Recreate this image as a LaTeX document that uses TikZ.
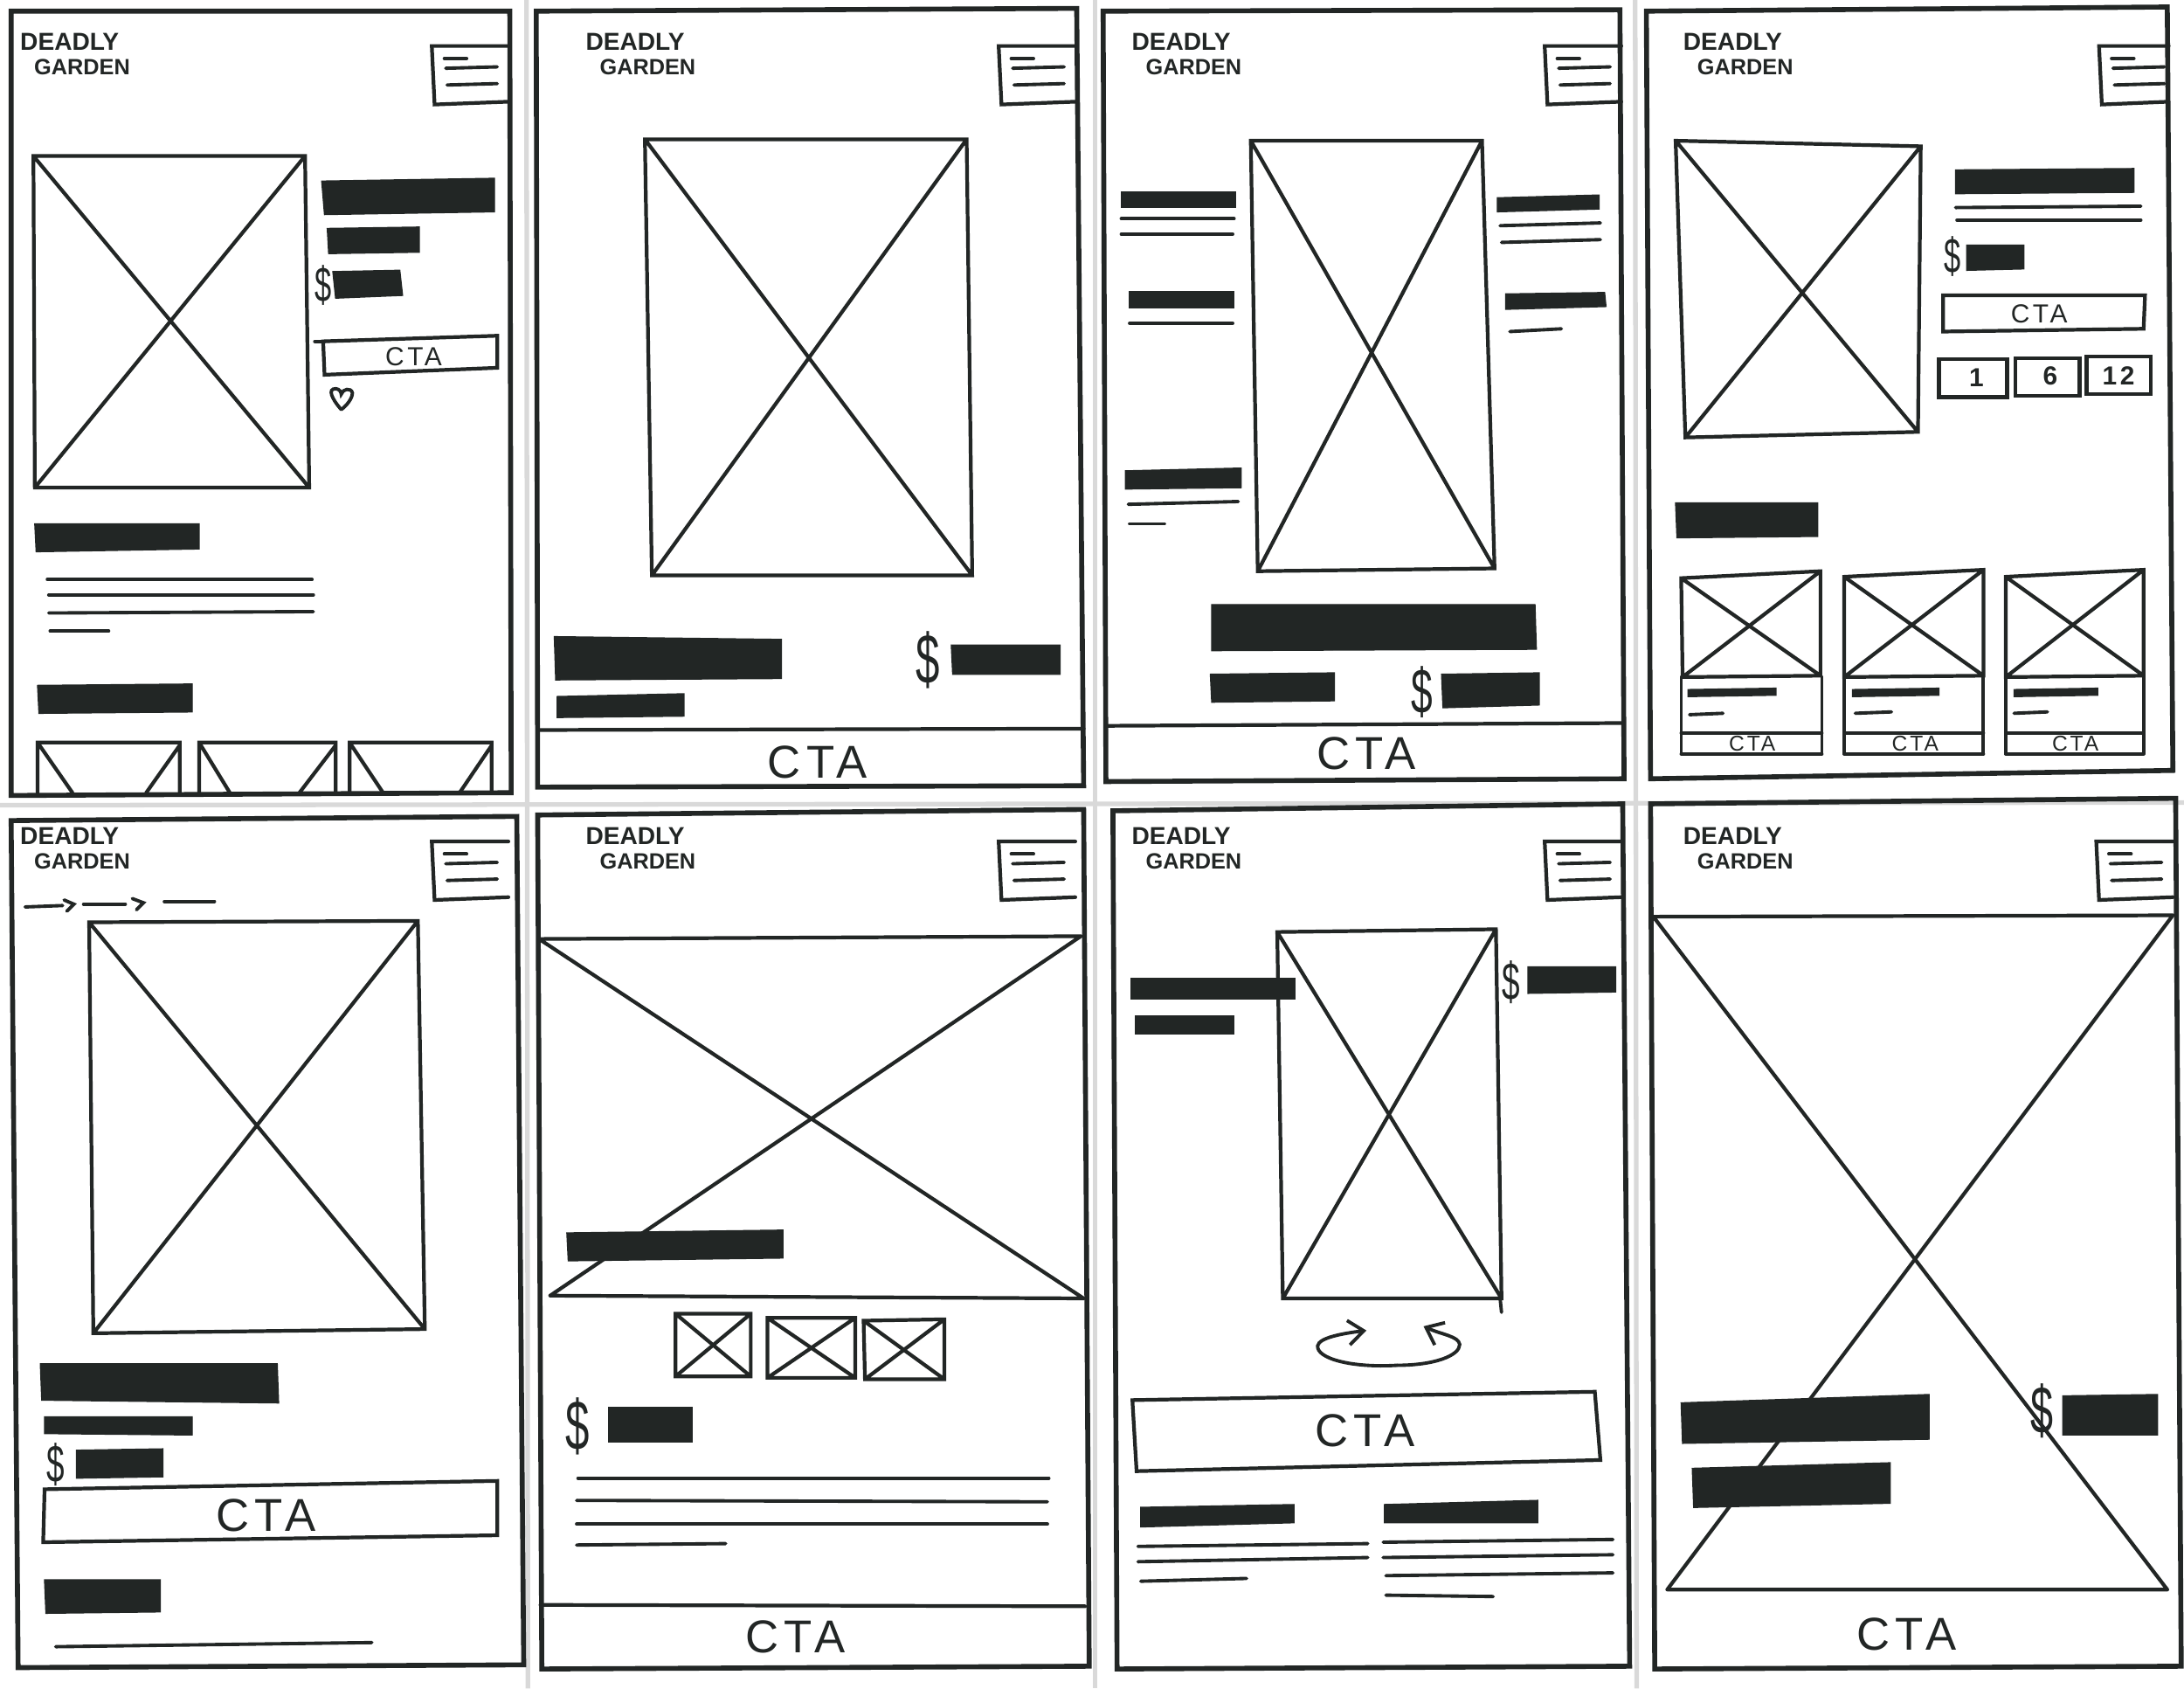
\documentclass[tikz,border=0pt]{standalone}
\usepackage{graphicx}
\usepackage{fontspec}
\setmainfont{Liberation Sans}
\newfontfamily\ctafont[LetterSpace=12]{Liberation Sans}
\usetikzlibrary{arrows.meta}
\definecolor{tinta}{HTML}{222625}
\tikzset{
  marco/.style={draw=tinta,line width=1.6pt,line cap=round},
  caja/.style={draw=tinta,line width=1.2pt,line cap=round},
  raya/.style={draw=tinta,line width=1.1pt,line cap=round},
  barra/.style={fill=tinta,draw=tinta,line width=.4pt},
  logo/.style={font=\bfseries\fontsize{8}{8}\selectfont,text=tinta,inner sep=0pt},
  logob/.style={font=\bfseries\fontsize{7.2}{8}\selectfont,text=tinta,inner sep=0pt},
  ctag/.style={font=\ctafont\fontsize{15}{15}\selectfont,text=tinta,inner sep=0pt},
  ctam/.style={font=\ctafont\fontsize{8.5}{9}\selectfont,text=tinta,inner sep=0pt},
  ctap/.style={font=\ctafont\fontsize{7}{8}\selectfont,text=tinta,inner sep=0pt},
  precio/.style={font=\fontsize{#1}{#1}\selectfont,text=tinta,inner sep=0pt}
}
\begin{document}
\begin{tikzpicture}[x=0.015944cm,y=-0.015944cm]
\useasboundingbox (0,0) rectangle (1568,1212);
% separadores
\foreach \x/\xx in {378/379,786/786,1174/1175}{
  \draw[gray!30,line width=1.5pt] (\x,0) -- (\xx,1212);}
\draw[gray!30,line width=1.5pt] (0,578) -- (1568,576);
% marcos
\foreach \ax/\ay/\bx/\by/\cx/\cy/\dx/\dy in {
  8/8/366/8/367/569/8/571, 385/8/773/6/778/564/386/565,
  792/8/1163/7/1166/559/794/561, 1182/8/1556/5/1560/553/1185/559,
  8/589/371/586/376/1195/13/1197, 386/585/778/581/782/1196/389/1198,
  799/582/1165/577/1170/1196/802/1198, 1185/577/1562/573/1566/1196/1188/1198}{
  \draw[marco] (\ax,\ay) -- (\bx,\by) -- (\cx,\cy) -- (\dx,\dy) -- cycle;}
% logos y menus
\foreach \i/\x/\y in {a/50/30,b/456/30,c/848/30,d/1244/30,e/50/600,f/456/600,g/848/600,h/1244/600}{
  \node[logo] (deadly\i) at (\x,\y) {DEADLY};
  \node[logob] (garden\i) at (\x+9,\y+18) {GARDEN};}
\foreach \x/\y/\w in {310/33/55,717/33/55,1109/33/55,1507/33/50,310/604/55,717/604/55,1109/604/55,1505/604/55}{
  \draw[caja] (\x+\w,\y) -- (\x,\y) -- (\x+2,\y+42) -- (\x+\w,\y+40);
  \draw[raya] (\x+9,\y+9) -- (\x+25,\y+9);
  \draw[raya] (\x+10,\y+16) -- (\x+47,\y+15);
  \draw[raya] (\x+11,\y+28) -- (\x+47,\y+27);}
% imagenes
\foreach \ax/\ay/\bx/\by/\cx/\cy/\dx/\dy in {
  24/112/219/112/222/350/25/350, 463/100/694/100/698/413/468/413,
  898/101/1064/101/1073/408/903/410, 1203/101/1379/105/1377/310/1210/314,
  64/662/300/661/305/954/67/957, 1207/415/1307/410/1307/485/1208/486,
  1324/414/1424/409/1424/485/1324/486, 1440/414/1539/409/1539/485/1440/486,
  485/943/539/943/539/988/485/988, 551/946/614/946/614/989/551/989,
  620/948/678/947/678/990/621/990, 917/669/1074/667/1078/932/921/932}{
  \draw[caja] (\ax,\ay) -- (\bx,\by) -- (\cx,\cy) -- (\dx,\dy) -- cycle
    (\ax,\ay) -- (\cx,\cy) (\bx,\by) -- (\dx,\dy);}
% imagenes sin lados
\foreach \ax/\ay/\bx/\by/\cx/\cy/\dx/\dy in {
  387/674/776/672/778/932/395/930, 1187/658/1560/657/1556/1141/1197/1141}{
  \draw[caja] (\ax,\ay) -- (\bx,\by) (\dx,\dy) -- (\cx,\cy)
    (\ax,\ay) -- (\cx,\cy) (\bx,\by) -- (\dx,\dy);}
% imagenes cortadas
\foreach \ax/\bx/\cx/\dx in {27/129/105/52,143/241/215/165,251/353/330/275}{
  \draw[caja] (\ax,569) -- (\ax,533) -- (\bx,533) -- (\bx,569)
    (\ax,533) -- (\dx,569) (\bx,535) -- (\cx,569);}
% bloques de texto
\foreach \ax/\ay/\bx/\by/\cx/\cy/\dx/\dy in {
  231/130/355/128/355/152/233/154, 235/164/301/163/301/181/236/182,
  239/195/287/194/289/212/241/214, 25/376/143/376/143/394/26/396,
  27/492/138/491/138/511/28/512, 398/457/561/459/561/487/399/488,
  400/500/491/498/491/514/400/515, 683/463/761/463/761/484/684/484,
  805/138/887/138/887/149/805/149, 811/209/886/209/886/221/811/221,
  808/338/891/336/891/350/808/351, 1075/142/1148/140/1148/150/1075/152,
  1081/211/1152/210/1153/220/1081/222, 870/434/1102/434/1103/466/870/467,
  869/484/958/483/958/503/870/504, 1035/484/1105/483/1105/506/1036/508,
  1404/122/1532/121/1532/138/1404/139, 1412/176/1453/176/1453/193/1412/194,
  1203/361/1305/361/1305/385/1204/386, 1212/495/1275/494/1275/499/1212/500,
  1330/495/1392/494/1392/499/1330/500, 1446/495/1506/494/1506/499/1446/500,
  29/979/199/979/200/1007/30/1005, 32/1017/138/1017/138/1030/32/1029,
  55/1041/117/1040/117/1060/55/1061, 32/1134/115/1134/115/1157/33/1158,
  407/885/562/883/562/903/408/905, 437/1010/497/1010/497/1035/437/1035,
  812/702/930/702/930/717/812/717, 815/729/886/729/886/742/815/742,
  1097/694/1160/694/1160/712/1097/713, 819/1082/929/1080/929/1093/819/1096,
  994/1080/1104/1077/1104/1093/994/1093, 1207/1007/1385/1001/1385/1033/1208/1036,
  1215/1054/1357/1050/1357/1079/1216/1082, 1481/1002/1549/1001/1549/1030/1481/1030}{
  \fill[barra] (\ax,\ay) -- (\bx,\by) -- (\cx,\cy) -- (\dx,\dy) -- cycle;}
% lineas
\foreach \ax/\ay/\bx/\by in {
  34/416/224/416, 35/427/225/427, 35/440/225/439, 36/453/78/453,
  805/157/886/157, 805/168/885/168, 811/232/885/232, 810/362/889/360, 811/376/836/376,
  1077/162/1149/160, 1078/174/1149/172, 1084/238/1121/236,
  1404/149/1537/148, 1405/158/1537/158,
  1213/513/1237/512, 1332/512/1358/511, 1446/512/1470/511,
  1207/526/1308/526, 1324/526/1424/526, 1440/526/1539/526,
  1207/541/1308/541, 1324/541/1424/541, 1440/541/1539/541,
  1207/486/1207/541, 1308/486/1308/541, 1324/486/1324/541,
  1424/486/1424/541, 1440/486/1440/541, 1539/486/1539/541,
  18/651/45/650, 60/649/90/649, 118/647/154/647, 40/1182/267/1179,
  415/1061/753/1061, 414/1077/752/1078, 414/1094/752/1094, 414/1109/521/1108,
  817/1110/982/1108, 817/1121/982/1118, 819/1135/895/1133,
  993/1107/1158/1105, 993/1118/1158/1116, 995/1131/1158/1129, 995/1145/1072/1146,
  1077/932/1078/942, 226/245/233/245}{
  \draw[raya] (\ax,\ay) -- (\bx,\by);}
\draw[raya] (46,646) -- (53,649) -- (48,654);
\draw[raya] (95,645) -- (103,648) -- (98,653);
% lineas de pie
\foreach \ax/\ay/\bx/\by in {386/524/778/523, 794/521/1164/519, 388/1152/779/1153}{
  \draw[caja] (\ax,\ay) -- (\bx,\by);}
% botones
\foreach \ax/\ay/\bx/\by/\cx/\cy/\dx/\dy in {
  232/245/357/241/357/264/233/269, 1395/212/1540/212/1539/236/1395/238,
  1392/258/1441/258/1441/285/1392/285, 1447/257/1493/257/1493/284/1447/284,
  1498/256/1544/256/1544/283/1498/283, 32/1069/357/1063/357/1102/31/1107,
  813/1005/1145/999/1149/1048/816/1056}{
  \draw[caja] (\ax,\ay) -- (\bx,\by) -- (\cx,\cy) -- (\dx,\dy) -- cycle;}
% textos
\foreach \i/\x/\y in {a/587/547,b/981/541,c/191/1088,d/571/1175,e/980/1027,f/1369/1173}{
  \node[ctag] (ctag\i) at (\x,\y) {CTA};}
\foreach \i/\x/\y in {a/297/256,b/1464/225}{
  \node[ctam] (ctam\i) at (\x,\y) {CTA};}
\foreach \i/\x/\y in {a/1258/534,b/1375/534,c/1490/534}{
  \node[ctap] (ctap\i) at (\x,\y) {CTA};}
\node[ctam] (uno) at (1419,271) {\bfseries 1};
\node[ctam] (seis) at (1472,270) {\bfseries 6};
\node[ctam] (doce) at (1521,270) {\bfseries 12};
\foreach \i/\x/\y/\t in {a/232/205/14,b/666/474/20,c/1021/497/18,d/1402/184/14,
  e/40/1051/15,f/415/1024/20,g/1085/705/15,h/1466/1013/19}{
  \node[precio=\t] (dolar\i) at (\x,\y) {\scalebox{.7}[1.15]{\$}};}
% corazon
\draw[raya] (245,294) .. controls (238,286) and (235,279) .. (241,279)
  .. controls (244,279) and (245,282) .. (245,283)
  .. controls (246,279) and (252,278) .. (253,282)
  .. controls (253,286) and (249,291) .. (245,294);
% giro
\draw[raya,-{Straight Barb[length=5pt,width=8pt]}] (1003,980) .. controls (970,982) and (945,975) .. (946,966)
  .. controls (947,960) and (965,957) .. (981,955);
\draw[raya,-{Straight Barb[length=5pt,width=8pt]}] (1003,980) .. controls (1030,980) and (1048,973) .. (1048,965)
  .. controls (1047,959) and (1035,958) .. (1022,952);
\end{tikzpicture}
\end{document}
